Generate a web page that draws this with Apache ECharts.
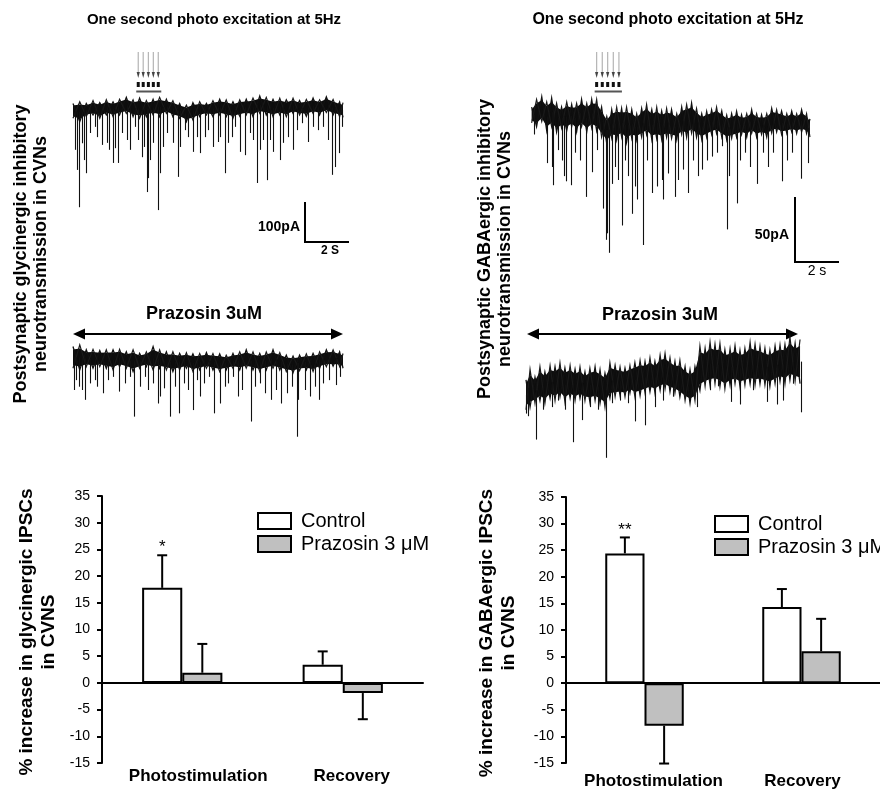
<!doctype html>
<html>
<head>
<meta charset="utf-8">
<title>photo excitation IPSCs</title>
<script src="https://cdn.jsdelivr.net/npm/echarts@6/dist/echarts.min.js"></script>
<style>
  html, body { margin: 0; padding: 0; background: #fff; }
  #main { width: 880px; height: 792px; }
</style>
</head>
<body>
<div id="main"></div>
<script>
// ---------- bar charts: % increase in IPSCs ----------
var categories = ['Photostimulation', 'Recovery'];
var glyControl = [17.8, 3.4];
var glyControlErr = [6.1, 2.5];
var glyPrazosin = [1.9, -1.9];
var glyPrazosinErr = [5.4, 4.9];
var glySig = ['*', ''];

var gabaControl = [24.4, 14.3];
var gabaControlErr = [3.0, 3.4];
var gabaPrazosin = [-8.0, 6.0];
var gabaPrazosinErr = [7.1, 6.1];
var gabaSig = ['**', ''];

// ---------- current traces (time s, current pA) ----------
// glycinergic traces: noise band edges read every ~0.3 s
var leftBandT = [0,0.30,0.59,0.89,1.19,1.48,1.78,2.07,2.37,2.67,2.96,3.26,3.56,3.85,4.15,4.44,4.74,5.04,5.33,5.63,5.93,6.22,6.52,6.81,7.11,7.41,7.70,8.00,8.30,8.59,8.89,9.19,9.48,9.78,10.07,10.37,10.67,10.96,11.26,11.56,11.85,12.0];
var gly1Hi = [11,15,11,18,13,20,15,21,26,20,24,18,21,26,21,18,11,7,13,15,11,18,21,20,15,20,21,24,29,26,21,24,20,24,18,21,24,20,27,21,15,13];
var gly1Lo = [-25,-33,-21,-17,-25,-17,-21,-17,-13,-21,-25,-21,-17,-21,-13,-21,-25,-33,-29,-21,-17,-21,-17,-21,-25,-20,-17,-21,-13,-17,-21,-17,-21,-13,-17,-20,-13,-17,-11,-17,-21,-23];
var gly1Spikes = [[0.09,-102],[0.18,-151],[0.27,-242],[0.39,-86],[0.49,-127],[0.58,-159],[0.76,-61],[0.98,-46],[1.07,-71],[1.29,-90],[1.51,-85],[1.6,-102],[1.78,-134],[1.87,-98],[2.0,-134],[2.18,-61],[2.4,-78],[2.53,-102],[2.76,-46],[2.89,-78],[3.07,-120],[3.16,-95],[3.29,-205],[3.33,-171],[3.42,-127],[3.56,-85],[3.78,-249],[3.87,-159],[4.0,-95],[4.18,-61],[4.44,-85],[4.67,-168],[4.76,-95],[4.98,-54],[5.11,-71],[5.33,-107],[5.51,-71],[5.64,-110],[5.87,-71],[6.0,-54],[6.22,-95],[6.44,-83],[6.53,-71],[6.76,-159],[6.89,-85],[7.07,-71],[7.2,-46],[7.42,-107],[7.64,-115],[7.87,-61],[8.0,-78],[8.18,-183],[8.31,-102],[8.44,-78],[8.62,-176],[8.76,-78],[8.89,-107],[9.2,-127],[9.33,-85],[9.56,-71],[9.78,-102],[9.96,-54],[10.18,-37],[10.44,-83],[10.67,-46],[10.89,-54],[11.11,-46],[11.33,-78],[11.51,-163],[11.64,-144],[11.82,-110],[11.96,-46]];
var glyStim = [2.9, 3.12, 3.35, 3.57, 3.79];

var gly2Hi = [28,32,20,21,18,20,20,21,15,20,11,15,28,20,15,15,11,13,10,11,13,11,10,7,11,15,20,15,11,15,20,13,7,5,7,10,11,15,20,20,15,11];
var gly2Lo = [-25,-29,-21,-25,-21,-25,-29,-21,-25,-33,-25,-21,-29,-25,-29,-33,-29,-25,-33,-29,-25,-29,-33,-29,-25,-29,-25,-29,-33,-29,-25,-29,-33,-36,-31,-29,-33,-25,-21,-20,-21,-25];
var gly2Spikes = [[0.04,-78],[0.13,-54],[0.28,-70],[0.39,-78],[0.53,-102],[0.76,-62],[0.98,-54],[1.08,-70],[1.35,-86],[1.57,-54],[1.79,-46],[2.06,-82],[2.31,-62],[2.53,-46],[2.71,-143],[2.98,-70],[3.2,-46],[3.35,-78],[3.54,-62],[3.79,-111],[3.87,-94],[4.04,-74],[4.31,-143],[4.53,-70],[4.73,-135],[4.93,-62],[5.13,-78],[5.32,-127],[5.5,-54],[5.64,-94],[5.82,-62],[6.06,-46],[6.27,-135],[6.53,-111],[6.76,-70],[6.9,-62],[7.13,-46],[7.32,-94],[7.5,-78],[7.9,-155],[8.09,-70],[8.31,-62],[8.53,-86],[8.79,-102],[9.02,-78],[9.23,-111],[9.5,-86],[9.72,-70],[9.94,-192],[10.01,-102],[10.31,-78],[10.53,-94],[10.76,-70],[10.92,-102],[11.13,-62],[11.39,-54],[11.69,-66],[11.87,-46]];

// GABAergic traces
var gaba1T = [0.25,0.47,0.70,0.92,1.14,1.36,1.58,1.81,2.03,2.25,2.47,2.70,2.92,3.14,3.36,3.59,3.81,4.03,4.25,4.47,4.70,4.92,5.14,5.36,5.59,5.81,6.03,6.25,6.47,6.70,6.92,7.14,7.36,7.58,7.81,8.03,8.25,8.47,8.70,8.92,9.14,9.36,9.58,9.81,10.03,10.25,10.47,10.70,10.92,11.14,11.36,11.59,11.81,12.03,12.25,12.47,12.62];
var gaba1Hi = [6,12,14,10,13,9,6,10,8,9,12,9,12,12,6,-1,4,6,5,6,4,1,5,8,4,6,3,5,4,1,6,8,9,5,1,3,4,6,3,0,1,3,0,1,4,1,0,1,5,4,3,1,3,1,4,1,-3];
var gaba1Lo = [-6,-9,-5,-12,-9,-13,-10,-12,-9,-13,-9,-13,-10,-12,-17,-22,-18,-19,-17,-21,-18,-19,-17,-15,-19,-18,-19,-17,-18,-19,-15,-17,-14,-17,-19,-17,-15,-14,-17,-19,-18,-17,-15,-17,-14,-17,-15,-17,-14,-13,-15,-14,-13,-14,-13,-14,-17];
var gaba1Spikes = [[0.36,-15],[0.92,-37],[1.14,-40],[1.21,-54],[1.44,-27],[1.59,-35],[1.7,-47],[1.78,-51],[2.0,-54],[2.18,-29],[2.4,-35],[2.67,-63],[2.92,-44],[3.14,-27],[3.44,-72],[3.56,-96],[3.61,-91],[3.69,-106],[3.81,-53],[3.96,-40],[4.1,-50],[4.25,-85],[4.4,-35],[4.55,-47],[4.7,-76],[4.84,-55],[4.95,-65],[5.19,-100],[5.36,-35],[5.59,-60],[5.84,-55],[6.03,-50],[6.1,-65],[6.33,-45],[6.62,-63],[6.77,-50],[6.99,-42],[7.21,-60],[7.44,-35],[7.66,-47],[7.81,-42],[8.03,-35],[8.25,-32],[8.48,-29],[8.7,-24],[8.92,-88],[9.02,-47],[9.36,-68],[9.51,-35],[9.73,-29],[9.96,-40],[10.28,-53],[10.55,-29],[10.77,-40],[10.99,-29],[11.36,-51],[11.59,-35],[11.81,-29],[12.22,-49],[12.55,-37]];
var gabaStim = [3.14, 3.39, 3.63, 3.88, 4.13];

var gaba2T = [0,0.18,0.40,0.62,0.84,1.07,1.29,1.51,1.73,1.96,2.18,2.40,2.62,2.84,3.07,3.29,3.51,3.73,3.96,4.18,4.40,4.62,4.84,5.07,5.29,5.51,5.73,5.96,6.18,6.40,6.62,6.84,7.07,7.29,7.51,7.73,7.96,8.18,8.40,8.62,8.84,9.07,9.29,9.51,9.73,9.96,10.18,10.40,10.62,10.84,11.07,11.29,11.51,11.73,11.96,12.18];
var gaba2Hi = [4,12,6,14,10,15,14,17,13,15,12,14,10,13,14,12,9,17,15,14,13,15,17,19,18,21,18,23,24,21,18,19,14,12,14,30,28,33,31,32,27,28,30,27,28,33,31,30,28,27,30,31,31,37,32,35];
var gaba2Lo = [-19,-17,-14,-12,-14,-10,-12,-9,-13,-10,-12,-10,-12,-13,-12,-14,-17,-10,-9,-8,-9,-6,-9,-8,-6,-5,-6,-4,-3,-5,-6,-9,-12,-14,-12,-4,-1,0,1,-1,-3,0,1,-1,0,1,0,1,0,-1,1,3,1,4,3,1];
var gaba2Spikes = [[0,-22],[0.1,-24],[0.44,-42],[0.77,-19],[1.14,-17],[1.44,-12],[1.73,-19],[2.1,-44],[2.47,-27],[2.84,-17],[3.21,-19],[3.56,-56],[3.81,-14],[4.18,-12],[4.55,-14],[4.84,-28],[5.29,-31],[5.73,-17],[6.1,-12],[6.55,-9],[7.21,-6],[7.59,-17],[8.18,-4],[8.55,-1],[9.1,-13],[9.51,-15],[10.1,-4],[10.7,-13],[11.17,-15],[11.44,-12],[11.88,1],[12.22,-21]];

var FONT = 'Liberation Sans, Arial, sans-serif';

var traces = [
  {box: {left: 73, top: 90, width: 270, height: 130}, base: 108, pApx: 100 / 41, tMax: 12,
   t: leftBandT, hi: gly1Hi, lo: gly1Lo, spikes: gly1Spikes, stim: glyStim},
  {box: {left: 73, top: 335, width: 270, height: 110}, base: 358, pApx: 100 / 41, tMax: 12,
   t: leftBandT, hi: gly2Hi, lo: gly2Lo, spikes: gly2Spikes},
  {box: {left: 526, top: 90, width: 285, height: 170}, base: 115, pApx: 50 / 65, tMax: 12.667,
   t: gaba1T, hi: gaba1Hi, lo: gaba1Lo, spikes: gaba1Spikes, stim: gabaStim},
  {box: {left: 526, top: 330, width: 285, height: 140}, base: 385, pApx: 50 / 65, tMax: 12.667,
   t: gaba2T, hi: gaba2Hi, lo: gaba2Lo, spikes: gaba2Spikes}
];

function bandMid(tr, t) {
  var best = 0;
  for (var i = 1; i < tr.t.length; i++) {
    if (Math.abs(tr.t[i] - t) < Math.abs(tr.t[best] - t)) best = i;
  }
  return (tr.hi[best] + tr.lo[best]) / 2;
}

var grids = [], xAxes = [], yAxes = [], series = [];

traces.forEach(function (tr, k) {
  grids.push(tr.box);
  var yMax = (tr.base - tr.box.top) * tr.pApx;
  xAxes.push({type: 'value', gridIndex: k, min: 0, max: tr.tMax, show: false});
  yAxes.push({type: 'value', gridIndex: k, max: yMax, min: yMax - tr.box.height * tr.pApx, show: false});

  // noise band: a dark core plus a zig-zag through the read edge points
  series.push({
    type: 'custom', xAxisIndex: k, yAxisIndex: k, silent: true, clip: false, z: 2,
    data: [[tr.t[0], tr.hi[0]]],
    renderItem: function (params, api) {
      var core = [], zig = [], zag = [];
      var n = tr.t.length;
      for (var i = 0; i < n; i++) {
        var r = tr.hi[i] - tr.lo[i];
        core.push(api.coord([tr.t[i], tr.hi[i] - 0.14 * r]));
        zig.push(api.coord([tr.t[i], i % 2 ? tr.lo[i] : tr.hi[i]]));
        zag.push(api.coord([tr.t[i], i % 2 ? tr.hi[i] : tr.lo[i]]));
      }
      for (var j = n - 1; j >= 0; j--) {
        core.push(api.coord([tr.t[j], tr.lo[j] + 0.14 * (tr.hi[j] - tr.lo[j])]));
      }
      return {type: 'group', children: [
        {type: 'polygon', shape: {points: core}, style: {fill: '#0d0d0d'}},
        {type: 'polyline', shape: {points: zig}, style: {stroke: '#111', lineWidth: 1.3, fill: null}},
        {type: 'polyline', shape: {points: zag}, style: {stroke: '#1a1a1a', lineWidth: 1.2, fill: null}}
      ]};
    }
  });

  series.push({
    type: 'custom', xAxisIndex: k, yAxisIndex: k, silent: true, clip: false, z: 3,
    data: tr.spikes,
    renderItem: function (params, api) {
      var t = api.value(0), v = api.value(1);
      var a = api.coord([t, bandMid(tr, t)]), b = api.coord([t, v]);
      var x = Math.round(a[0]) + 0.5;
      return {type: 'line', shape: {x1: x, y1: a[1], x2: x, y2: b[1]},
              style: {stroke: '#111', lineWidth: 1.1}};
    }
  });

  if (tr.stim) {
    series.push({
      type: 'custom', xAxisIndex: k, yAxisIndex: k, silent: true, clip: false, z: 3,
      data: tr.stim.map(function (s) { return [s, 0]; }),
      renderItem: function (params, api) {
        var x = api.coord([api.value(0), 0])[0];
        var kids = [
          {type: 'line', shape: {x1: x, y1: 52, x2: x, y2: 74}, style: {stroke: '#b4b4b4', lineWidth: 1.2}},
          {type: 'polygon', shape: {points: [[x - 1.6, 72], [x + 1.6, 72], [x, 78]]}, style: {fill: '#444'}},
          {type: 'rect', shape: {x: x - 1.5, y: 82, width: 3, height: 5}, style: {fill: '#111'}}
        ];
        if (params.dataIndex === 0) {
          var xl = api.coord([tr.stim[tr.stim.length - 1], 0])[0];
          kids.push({type: 'line', shape: {x1: x - 2, y1: 91.5, x2: xl + 3, y2: 91.5},
                     style: {stroke: '#555', lineWidth: 2}});
        }
        return {type: 'group', children: kids};
      }
    });
  }
});

// bar chart panels
function addBarPanel(box, ctrl, ctrlErr, praz, prazErr, sig, labelMargin, labelPad) {
  var gi = grids.length;
  grids.push(box);
  var xZero = xAxes.length;
  xAxes.push({
    type: 'category', gridIndex: gi, data: categories, position: 'top',
    axisLine: {onZero: true, lineStyle: {color: '#000', width: 2}},
    axisTick: {alignWithLabel: true, inside: true, length: 6, lineStyle: {color: '#000', width: 2}},
    axisLabel: {show: false}, splitLine: {show: false}
  });
  xAxes.push({
    type: 'category', gridIndex: gi, data: categories, position: 'bottom',
    axisLine: {show: false, onZero: false}, axisTick: {show: false}, splitLine: {show: false},
    axisLabel: {
      margin: labelMargin, color: '#000',
      formatter: function (v, i) { return '{p' + i + '|' + v + '}'; },
      rich: {
        p0: {fontSize: 17, fontWeight: 'bold', fontFamily: FONT, color: '#000', padding: [0, 0, 0, labelPad[0]]},
        p1: {fontSize: 17, fontWeight: 'bold', fontFamily: FONT, color: '#000', padding: [0, 0, 0, labelPad[1]]}
      }
    }
  });
  var yi = yAxes.length;
  yAxes.push({
    type: 'value', gridIndex: gi, min: -15, max: 35, interval: 5,
    axisLine: {show: true, onZero: false, lineStyle: {color: '#000', width: 2}},
    axisTick: {show: true, length: 5, lineStyle: {color: '#000', width: 2}},
    axisLabel: {fontSize: 14, color: '#000', margin: 12, fontFamily: FONT},
    splitLine: {show: false}
  });
  series.push({
    name: 'Control', type: 'bar', xAxisIndex: xZero, yAxisIndex: yi, data: ctrl,
    barWidth: '25%', barGap: '0%',
    itemStyle: {color: '#fff', borderColor: '#000', borderWidth: 2}
  });
  series.push({
    name: 'Prazosin 3 μM', type: 'bar', xAxisIndex: xZero, yAxisIndex: yi, data: praz,
    barWidth: '25%', barGap: '0%',
    itemStyle: {color: '#c0c0c0', borderColor: '#000', borderWidth: 2}
  });
  [[ctrl, ctrlErr, -1, sig], [praz, prazErr, 1, null]].forEach(function (s) {
    series.push({
      type: 'custom', xAxisIndex: xZero, yAxisIndex: yi, silent: true, z: 5,
      data: s[0].map(function (v, i) { return [i, v, s[1][i]]; }),
      renderItem: function (params, api) {
        var i = api.value(0), v = api.value(1), e = api.value(2);
        var p = api.coord([i, v]);
        var x = p[0] + s[2] * api.size([1, 0])[0] * 0.125;
        var yEnd = api.coord([i, v >= 0 ? v + e : v - e])[1];
        var kids = [
          {type: 'line', shape: {x1: x, y1: p[1], x2: x, y2: yEnd}, style: {stroke: '#000', lineWidth: 2}},
          {type: 'line', shape: {x1: x - 5, y1: yEnd, x2: x + 5, y2: yEnd}, style: {stroke: '#000', lineWidth: 2}}
        ];
        if (s[3] && s[3][params.dataIndex]) {
          kids.push({type: 'text', x: x, y: yEnd + 1, style: {
            text: s[3][params.dataIndex], fill: '#000', fontSize: 17, fontFamily: FONT,
            align: 'center', verticalAlign: 'bottom', textAlign: 'center', textVerticalAlign: 'bottom'}});
        }
        return {type: 'group', children: kids};
      }
    });
  });
}

addBarPanel({left: 102, top: 496, width: 321, height: 267},
  glyControl, glyControlErr, glyPrazosin, glyPrazosinErr, glySig, 5, [32, 18]);
addBarPanel({left: 566, top: 497, width: 320, height: 266},
  gabaControl, gabaControlErr, gabaPrazosin, gabaPrazosinErr, gabaSig, 10, [18, 2]);

// ---------- annotations ----------
function txt(x, y, text, size, weight, rot, lh) {
  return {type: 'text', x: x, y: y, rotation: rot || 0, silent: true, style: {
    text: text, fill: '#000', fontSize: size, fontWeight: weight || 'normal', fontFamily: FONT,
    lineHeight: lh || size * 1.15,
    align: 'center', verticalAlign: 'middle', textAlign: 'center', textVerticalAlign: 'middle'}};
}
function seg(x1, y1, x2, y2, w) {
  return {type: 'line', silent: true, shape: {x1: x1, y1: y1, x2: x2, y2: y2}, style: {stroke: '#000', lineWidth: w || 2}};
}
function doubleArrow(xa, xb, y) {
  return [
    seg(xa + 8, y, xb - 8, y, 2),
    {type: 'polygon', silent: true, shape: {points: [[xa, y], [xa + 12, y - 5.5], [xa + 12, y + 5.5]]}, style: {fill: '#000'}},
    {type: 'polygon', silent: true, shape: {points: [[xb, y], [xb - 12, y - 5.5], [xb - 12, y + 5.5]]}, style: {fill: '#000'}}
  ];
}

var elements = [
  txt(214, 20, 'One second photo excitation at 5Hz', 15, 'bold'),
  txt(668, 20, 'One second photo excitation at 5Hz', 16, 'bold'),
  txt(31, 254, 'Postsynaptic glycinergic inhibitory\nneurotransmission in CVNs', 18, 'bold', Math.PI / 2, 20),
  txt(495, 249, 'Postsynaptic GABAergic inhibitory\nneurotransmission in CVNs', 18, 'bold', Math.PI / 2, 20),
  txt(204, 314, 'Prazosin 3uM', 18, 'bold'),
  txt(660, 315, 'Prazosin 3uM', 18, 'bold'),
  // scale bars
  seg(305, 202, 305, 243, 2), seg(304, 242, 349, 242, 2),
  {type: 'text', x: 300, y: 227, silent: true, style: {text: '100pA', fill: '#000', fontSize: 14, fontWeight: 'bold', fontFamily: FONT,
    align: 'right', verticalAlign: 'middle', textAlign: 'right', textVerticalAlign: 'middle'}},
  txt(330, 251, '2 S', 12, 'bold'),
  seg(795, 197, 795, 263, 2), seg(794, 262, 839, 262, 2),
  {type: 'text', x: 789, y: 235, silent: true, style: {text: '50pA', fill: '#000', fontSize: 14, fontWeight: 'bold', fontFamily: FONT,
    align: 'right', verticalAlign: 'middle', textAlign: 'right', textVerticalAlign: 'middle'}},
  txt(817, 271, '2 s', 14, 'normal'),
  // bar chart axis titles
  txt(38, 632, '% increase in glycinergic IPSCs\nin CVNS', 19, 'bold', Math.PI / 2, 22),
  txt(498, 633, '% increase in GABAergic IPSCs\nin CVNS', 19, 'bold', Math.PI / 2, 22)
].concat(doubleArrow(73, 343, 334), doubleArrow(527, 798, 334));

var legendBase = {
  data: ['Control', 'Prazosin 3 μM'], orient: 'vertical', itemWidth: 33, itemHeight: 16, itemGap: 3,
  icon: 'rect', selectedMode: false,
  textStyle: {fontSize: 20, color: '#000', fontFamily: FONT, padding: [0, 0, 0, 5]}
};

var chart = echarts.init(document.getElementById('main'));
chart.setOption({
  animation: false,
  backgroundColor: '#fff',
  textStyle: {fontFamily: FONT},
  grid: grids,
  xAxis: xAxes,
  yAxis: yAxes,
  legend: [
    Object.assign({}, legendBase, {left: 252, top: 506}),
    Object.assign({}, legendBase, {left: 709, top: 509})
  ],
  graphic: {elements: elements},
  series: series
});
</script>
</body>
</html>
